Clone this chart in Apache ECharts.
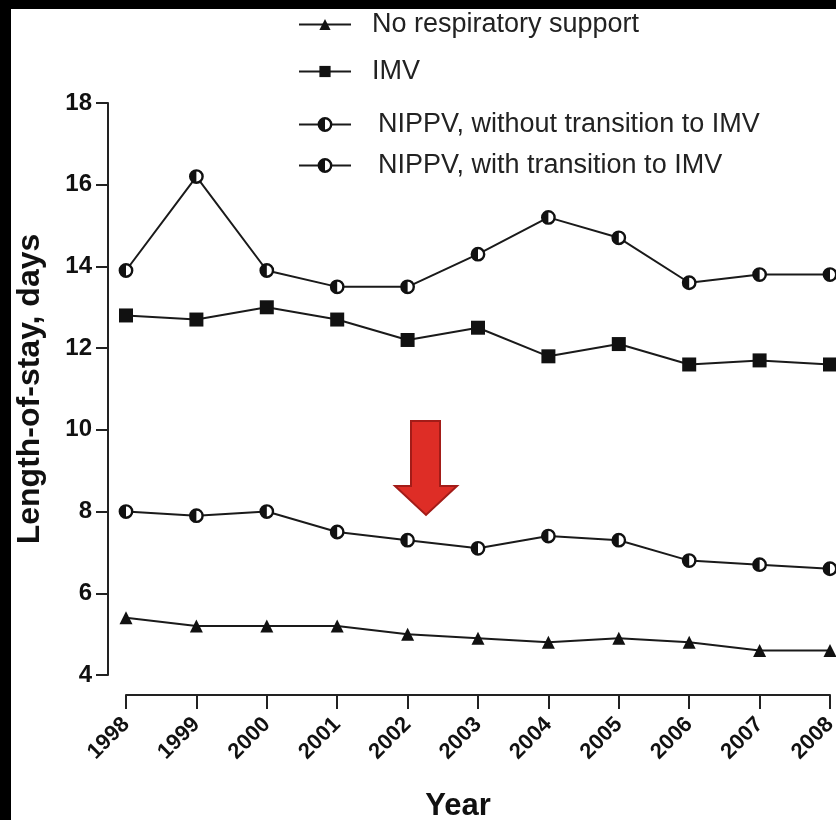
<!DOCTYPE html>
<html>
<head>
<meta charset="utf-8">
<script src="https://cdn.jsdelivr.net/npm/echarts@6/dist/echarts.min.js"></script>
<style>
html,body{margin:0;padding:0;background:#000;width:836px;height:820px;overflow:hidden;}
#paper{position:absolute;left:11px;top:9px;width:825px;height:811px;background:#fff;}
#chart{position:absolute;left:0;top:0;width:836px;height:820px;}
</style>
</head>
<body>
<div id="paper"></div>
<div id="chart"></div>
<script>
var years = ['1998','1999','2000','2001','2002','2003','2004','2005','2006','2007','2008'];
var noSupport = [5.4, 5.2, 5.2, 5.2, 5.0, 4.9, 4.8, 4.9, 4.8, 4.6, 4.6];
var imv = [12.8, 12.7, 13.0, 12.7, 12.2, 12.5, 11.8, 12.1, 11.6, 11.7, 11.6];
var nippvWithout = [8.0, 7.9, 8.0, 7.5, 7.3, 7.1, 7.4, 7.3, 6.8, 6.7, 6.6];
var nippvWith = [13.9, 16.2, 13.9, 13.5, 13.5, 14.3, 15.2, 14.7, 13.6, 13.8, 13.8];
var seriesNames = ['No respiratory support', 'IMV', 'NIPPV, without transition to IMV', 'NIPPV, with transition to IMV'];
var yTicks = {min: 4, max: 18, interval: 2};

function halfCircle(side) {
  var d = side === 'left' ? 'M8 1.8 A6.2 6.2 0 0 0 8 14.2 Z' : 'M8 1.8 A6.2 6.2 0 0 1 8 14.2 Z';
  var svg = '<svg xmlns="http://www.w3.org/2000/svg" width="16" height="16">' +
    '<circle cx="8" cy="8" r="6.2" fill="#fff" stroke="#111" stroke-width="2.4"/>' +
    '<path d="' + d + '" fill="#111"/></svg>';
  return 'image://data:image/svg+xml;charset=utf-8,' + encodeURIComponent(svg);
}

var FONT = '"Liberation Sans", Arial, Helvetica, sans-serif';
var lineColor = '#1a1a1a';

function mkSeries(name, data, symbol, size) {
  return {
    name: name, type: 'line', data: data,
    symbol: symbol, symbolSize: size,
    lineStyle: {color: lineColor, width: 2},
    itemStyle: {color: '#111', borderWidth: 0},
    emphasis: {disabled: true},
    animation: false,
    z: 3
  };
}

function mkLegend(name, top, textLeftPad, ih) {
  return {
    data: [name], left: 293, top: top,
    itemWidth: 52, itemHeight: ih,
    textStyle: {fontFamily: FONT, fontSize: 27, color: '#222', padding: [0, 0, 0, textLeftPad]},
    selectedMode: false
  };
}

var chart = echarts.init(document.getElementById('chart'), null, {renderer: 'canvas'});
chart.setOption({
  backgroundColor: 'transparent',
  animation: false,
  legend: [
    mkLegend(seriesNames[0], 6, 16, 14),
    mkLegend(seriesNames[1], 53, 16, 14),
    mkLegend(seriesNames[2], 106, 22, 20),
    mkLegend(seriesNames[3], 147, 22, 20)
  ],
  grid: {left: 126, right: 6, top: 103, bottom: 145, containLabel: false, outerBoundsMode: 'none'},
  xAxis: {
    type: 'category', data: years, boundaryGap: false,
    offset: 20,
    axisLine: {lineStyle: {color: '#222', width: 2}},
    axisTick: {length: 14, lineStyle: {color: '#222', width: 2}},
    axisLabel: {rotate: 45, fontFamily: FONT, fontWeight: 'bold', fontSize: 22, color: '#111', margin: 26},
    name: 'Year', nameLocation: 'middle', nameGap: 96,
    nameTextStyle: {fontFamily: FONT, fontWeight: 'bold', fontSize: 31, color: '#111', padding: [0, 40, 0, 0]},
    splitLine: {show: false}
  },
  yAxis: {
    type: 'value', min: yTicks.min, max: yTicks.max, interval: yTicks.interval,
    offset: 18,
    axisLine: {show: true, lineStyle: {color: '#222', width: 2}},
    axisTick: {show: true, length: 12, lineStyle: {color: '#222', width: 2}},
    axisLabel: {fontFamily: FONT, fontWeight: 'bold', fontSize: 24, color: '#111', margin: 16},
    splitLine: {show: false},
    name: 'Length-of-stay, days', nameLocation: 'middle', nameGap: 62, nameRotate: 90,
    nameTextStyle: {fontFamily: FONT, fontWeight: 'bold', fontSize: 32, color: '#111'}
  },
  series: [
    mkSeries(seriesNames[0], noSupport, 'triangle', 13),
    mkSeries(seriesNames[1], imv, 'rect', 14),
    mkSeries(seriesNames[2], nippvWithout, halfCircle('left'), 16),
    mkSeries(seriesNames[3], nippvWith, halfCircle('left'), 16)
  ],
  graphic: [{
    type: 'polygon', z: 10,
    shape: {points: [[411, 421], [440, 421], [440, 486], [457, 486], [426, 515], [395, 486], [411, 486]]},
    style: {fill: '#de2d26', stroke: '#a31c18', lineWidth: 2}
  }]
});
</script>
</body>
</html>
